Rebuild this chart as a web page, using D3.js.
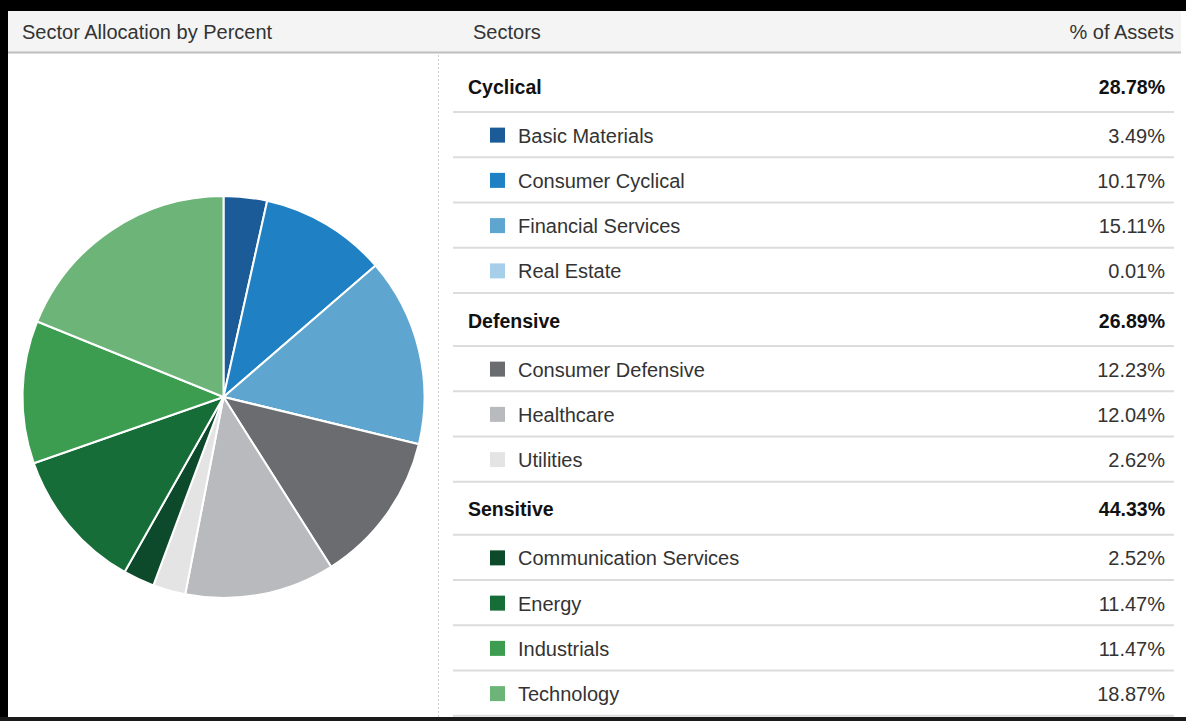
<!DOCTYPE html>
<html>
<head>
<meta charset="utf-8">
<script src="https://cdn.jsdelivr.net/npm/d3@7"></script>
<style>
  html, body { margin: 0; padding: 0; background: #fff; }
  svg { display: block; font-family: "Liberation Sans", Arial, sans-serif; }
</style>
</head>
<body>
<svg id="chart" width="1186" height="721"></svg>
<script>
// ---- data ----
const title = "Sector Allocation by Percent";
const colHeaders = ["Sectors", "% of Assets"];
const groups = ["Cyclical", "Defensive", "Sensitive"];
const groupTotals = [28.78, 26.89, 44.33];
const sectors = ["Basic Materials", "Consumer Cyclical", "Financial Services", "Real Estate",
                 "Consumer Defensive", "Healthcare", "Utilities",
                 "Communication Services", "Energy", "Industrials", "Technology"];
const sectorGroup = [0, 0, 0, 0, 1, 1, 1, 2, 2, 2, 2];
const values = [3.49, 10.17, 15.11, 0.01, 12.23, 12.04, 2.62, 2.52, 11.47, 11.47, 18.87];
const colors = ["#1b5c98", "#1f80c3", "#5ea6d0", "#a8cfea",
                "#6b6c70", "#b9babd", "#e4e4e5",
                "#0c4a2b", "#166d38", "#3c9c4f", "#6cb478"];

// ---- drawing ----
const W = 1186, H = 721;
const svg = d3.select("#chart");
const FS = 20;

// frame
svg.append("rect").attr("x", 0).attr("y", 0).attr("width", W).attr("height", H).attr("fill", "#fff");
svg.append("rect").attr("x", 8).attr("y", 11).attr("width", 1173).attr("height", 41).attr("fill", "#f4f4f4");
svg.append("rect").attr("x", 8).attr("y", 51.5).attr("width", 1173).attr("height", 2).attr("fill", "#bdbdbd");
svg.append("rect").attr("x", 0).attr("y", 0).attr("width", W).attr("height", 11).attr("fill", "#000");
svg.append("rect").attr("x", 0).attr("y", 0).attr("width", 8).attr("height", H).attr("fill", "#000");
svg.append("rect").attr("x", 0).attr("y", 717).attr("width", W).attr("height", 4).attr("fill", "#1a1a1a");

// header texts
svg.append("text").attr("x", 22).attr("y", 38.5).attr("font-size", FS).attr("fill", "#333").text(title);
svg.append("text").attr("x", 473).attr("y", 38.5).attr("font-size", FS).attr("fill", "#333").text(colHeaders[0]);
svg.append("text").attr("x", 1174).attr("y", 38.5).attr("font-size", FS).attr("fill", "#333")
   .attr("text-anchor", "end").text(colHeaders[1]);

// dotted divider
svg.append("line").attr("x1", 438.5).attr("x2", 438.5).attr("y1", 55).attr("y2", 717)
   .attr("stroke", "#cfcfcf").attr("stroke-width", 1).attr("stroke-dasharray", "2,2");

// pie
const cx = 223.5, cy = 397, r = 201;
const pie = d3.pie().sort(null).value(d => d.v).startAngle(0).endAngle(2 * Math.PI);
const arc = d3.arc().innerRadius(0).outerRadius(r);
const pdata = sectors.map((s, i) => ({ s, v: values[i], c: colors[i] }));
svg.append("g").attr("transform", `translate(${cx},${cy})`)
  .selectAll("path").data(pie(pdata)).join("path")
  .attr("d", arc).attr("fill", d => d.data.c)
  .attr("stroke", "#fff").attr("stroke-width", 2).attr("stroke-linejoin", "round");

// table rows
const rows = [];
groups.forEach((g, gi) => {
  rows.push({ type: "group", label: g, value: groupTotals[gi] });
  sectors.forEach((s, i) => {
    if (sectorGroup[i] === gi) rows.push({ type: "item", label: s, value: values[i], color: colors[i] });
  });
});
const groupH = 53, itemH = 45.25;
let y = 59;
const lineX1 = 453, lineX2 = 1174;
const tg = svg.append("g");
rows.forEach(row => {
  const h = row.type === "group" ? groupH : itemH;
  const cyRow = y + h / 2;
  if (row.type === "group") {
    tg.append("text").attr("x", 468).attr("y", cyRow + 8).attr("font-size", 19.5).attr("font-weight", "bold")
      .attr("fill", "#111").text(row.label);
    tg.append("text").attr("x", 1165).attr("y", cyRow + 8).attr("font-size", 19.5).attr("font-weight", "bold")
      .attr("fill", "#111").attr("text-anchor", "end").text(row.value.toFixed(2) + "%");
  } else {
    tg.append("rect").attr("x", 490).attr("y", cyRow - 7).attr("width", 15).attr("height", 15).attr("fill", row.color);
    tg.append("text").attr("x", 518).attr("y", cyRow + 8).attr("font-size", FS).attr("fill", "#333").text(row.label);
    tg.append("text").attr("x", 1165).attr("y", cyRow + 8).attr("font-size", FS).attr("fill", "#333")
      .attr("text-anchor", "end").text(row.value.toFixed(2) + "%");
  }
  y += h;
  tg.append("rect").attr("x", lineX1).attr("y", y - 1).attr("width", lineX2 - lineX1).attr("height", 2).attr("fill", "#dcdcdc");
});
</script>
</body>
</html>
